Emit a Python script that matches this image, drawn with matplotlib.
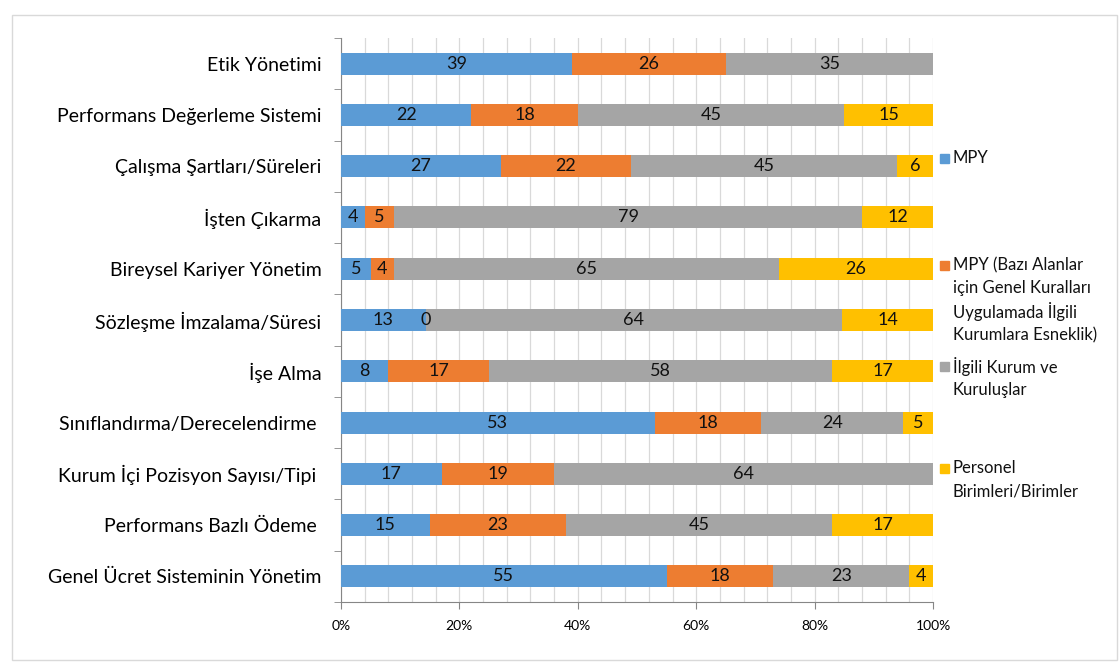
import matplotlib
matplotlib.use("Agg")
import matplotlib.pyplot as plt
from matplotlib.patches import Rectangle
from matplotlib.ticker import MultipleLocator, PercentFormatter
import numpy as np

categories = [
    "Etik Yönetimi",
    "Performans Değerleme Sistemi",
    "Çalışma Şartları/Süreleri",
    "İşten Çıkarma",
    "Bireysel Kariyer Yönetim",
    "Sözleşme İmzalama/Süresi",
    "İşe Alma",
    "Sınıflandırma/Derecelendirme ",
    "Kurum İçi Pozisyon Sayısı/Tipi ",
    "Performans Bazlı Ödeme ",
    "Genel Ücret Sisteminin Yönetim",
]
series_names = [
    "MPY",
    "MPY (Bazı Alanlar\niçin Genel Kuralları\nUygulamada İlgili\nKurumlara Esneklik)",
    "İlgili Kurum ve\nKuruluşlar",
    "Personel\nBirimleri/Birimler",
]
mpy = [39, 22, 27, 4, 5, 13, 8, 53, 17, 15, 55]
mpy_esneklik = [26, 18, 22, 5, 4, 0, 17, 18, 19, 23, 18]
ilgili_kurum = [35, 45, 45, 79, 65, 64, 58, 24, 64, 45, 23]
personel = [np.nan, 15, 6, 12, 26, 14, 17, 5, np.nan, 17, 4]
colors = ["#5b9bd5", "#ed7d31", "#a5a5a5", "#ffc000"]

plt.rcParams["font.family"] = ["Lato", "DejaVu Sans"]

data = np.array([mpy, mpy_esneklik, ilgili_kurum, personel], dtype=float)
totals = np.nansum(data, axis=0)
shares = np.nan_to_num(data) / totals * 100

fig = plt.figure(figsize=(11.19, 6.70), dpi=100)
fig.add_artist(Rectangle((12 / 1119, 0.015), 1 - 12 / 1119 - 0.002, 1 - 15 / 670 - 0.015,
                         transform=fig.transFigure, fill=False, ec="#d9d9d9", lw=1))
ax = fig.add_axes([341 / 1119, 1 - 602 / 670, (933 - 341) / 1119, (602 - 38) / 670])

y = np.arange(len(categories))
left = np.zeros(len(categories))
for vals, sh, col in zip(data, shares, colors):
    ax.barh(y, sh, left=left, height=0.43, color=col, zorder=3)
    for i, (v, s) in enumerate(zip(vals, sh)):
        if not np.isnan(v):
            ax.text(left[i] + s / 2, y[i], f"{int(v)}", ha="center", va="center",
                    fontsize=13, color="#111111", zorder=4)
    left += sh

ax.set_xlim(0, 100)
ax.set_ylim(len(categories) - 0.5, -0.5)
ax.set_yticks(y)
ax.set_yticklabels(categories, fontsize=14)
ax.set_yticks(np.arange(-0.5, len(categories)), minor=True)
ax.tick_params(axis="y", which="major", length=0, pad=14)
ax.tick_params(axis="y", which="minor", length=5, color="#868686")
ax.xaxis.set_major_locator(MultipleLocator(20))
ax.xaxis.set_minor_locator(MultipleLocator(4))
ax.xaxis.set_major_formatter(PercentFormatter(decimals=0))
ax.tick_params(axis="x", which="major", length=5, color="#868686", labelsize=10, pad=8)
ax.tick_params(axis="x", which="minor", length=0)
ax.grid(axis="x", which="both", color="#d9d9d9", lw=0.9, zorder=0)
for side in ["top", "right"]:
    ax.spines[side].set_visible(False)
for side in ["left", "bottom"]:
    ax.spines[side].set_color("#868686")

# legend on the right, one text per line for even spacing
leg_tops = [158, 265, 366, 468]
for name, col, ty in zip(series_names, colors, leg_tops):
    fig.add_artist(Rectangle((940 / 1119, 1 - (ty + 5) / 670), 9 / 1119, 9 / 670,
                             transform=fig.transFigure, color=col))
    for k, line in enumerate(name.split("\n")):
        fig.text(953 / 1119, 1 - (ty + k * 23.5) / 670, line, ha="left", va="center",
                 fontsize=12, color="#111111")

fig.savefig("out.png", dpi=100)
